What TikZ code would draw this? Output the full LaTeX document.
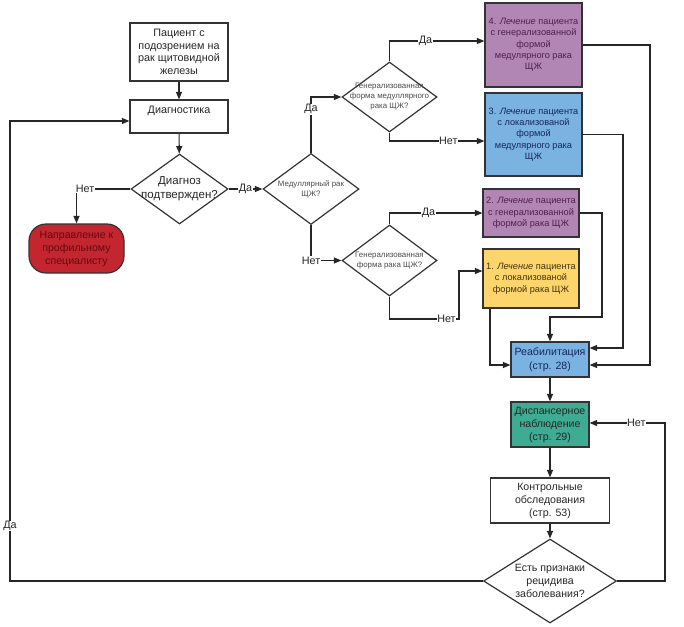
\documentclass[tikz,border=0pt]{standalone}
\usepackage{fontspec}
\setmainfont{Liberation Sans}
\usetikzlibrary{shapes.geometric,arrows.meta}
\definecolor{fillred}{RGB}{196,38,48}
\definecolor{fillpurple}{RGB}{178,134,180}
\definecolor{fillblue}{RGB}{122,178,226}
\definecolor{fillyellow}{RGB}{252,214,108}
\definecolor{fillteal}{RGB}{62,172,146}
\definecolor{textred}{RGB}{100,10,14}
\definecolor{textpurple}{RGB}{80,30,80}
\definecolor{textblue}{RGB}{20,40,90}
\definecolor{textbrown}{RGB}{70,50,10}

\begin{document}
\begin{tikzpicture}[x=1pt,y=-1pt,
  every node/.style={font=\fontsize{10.8}{12.5}\selectfont, text=black!85, align=center},
  box/.style={rectangle, draw=black!80, line width=1.2pt, inner sep=1pt},
  dia/.style={diamond, draw=black!80, line width=1.2pt, inner sep=0pt},
  term/.style={rectangle, rounded corners=17pt, draw=black!80, line width=1.2pt},
  cure/.style={box, font=\fontsize{9.2}{11.3}\selectfont},
  big/.style={font=\fontsize{11.5}{14}\selectfont},
  wide/.style={font=\fontsize{10.6}{13}\selectfont},
  small/.style={font=\fontsize{7.9}{10}\selectfont, text=black!70},
  lbl/.style={fill=white, inner sep=0.5pt},
  arr/.style={draw=black!85, line width=1.1pt, -{Triangle[length=7.5pt,width=6pt]}}]
\useasboundingbox (0,0) rectangle (684,626);

% Boxes
\node[box, minimum width=98pt, minimum height=58pt] (start) at (179,52) {Пациент с\\подозрением на\\рак щитовидной\\железы};
\node[box, minimum width=98pt, minimum height=33pt] (diag) at (179,116.5) {Диагностика\\~};
\node[dia, minimum width=97pt, minimum height=70pt, label={[big]center:{Диагноз\\подтвержден?}}] (dq) at (179.5,189) {};
\node[term, wide, fill=fillred, text=textred, minimum width=95pt, minimum height=49pt] (spec) at (76.5,248.5) {Направление к\\профильному\\специалисту};
\node[dia, minimum width=96pt, minimum height=71pt, label={[small]center:{Медуллярный рак\\ЩЖ?}}] (med) at (311,189) {};
\node[dia, minimum width=95pt, minimum height=70pt, label={[small]center:{Генерализованная\\форма медуллярного\\рака ЩЖ?}}] (gm) at (389.5,97) {};
\node[dia, minimum width=95pt, minimum height=71pt, label={[small]center:{Генерализованная\\форма рака ЩЖ?}}] (gl) at (389.5,260.5) {};

\node[cure, fill=fillpurple, text=textpurple, minimum width=97pt, minimum height=84pt] (t4) at (533.5,45) {4. \textit{Лечение} пациента\\с генерализованной\\формой\\медулярного рака\\ЩЖ};
\node[cure, fill=fillblue, text=textblue, minimum width=97pt, minimum height=83pt] (t3) at (533.5,134.5) {3. \textit{Лечение} пациента\\с локализованой\\формой\\медулярного рака\\ЩЖ};
\node[cure, fill=fillpurple, text=textpurple, minimum width=96pt, minimum height=48pt] (t2) at (531,213) {2. \textit{Лечение} пациента\\с генерализованной\\формой рака ЩЖ};
\node[cure, fill=fillyellow, text=textbrown, minimum width=96pt, minimum height=59pt] (t1) at (531,278.5) {1. \textit{Лечение} пациента\\с локализованой\\формой рака ЩЖ};

\node[box, font=\fontsize{10.6}{14}\selectfont, fill=fillblue, text=textblue, minimum width=78pt, minimum height=35pt] (reab) at (550,359.5) {Реабилитация\\(стр. 28)};
\node[box, wide, fill=fillteal, minimum width=78pt, minimum height=45pt] (disp) at (550,424.5) {Диспансерное\\наблюдение\\(стр. 29)};
\node[box, wide, minimum width=119pt, minimum height=45pt] (ctrl) at (550,500.5) {Контрольные\\обследования\\(стр. 53)};
\node[dia, minimum width=133pt, minimum height=84pt, label={[wide]center:{Есть признаки\\рецидива\\заболевания?}}] (rec) at (550,581) {};

% Bends
\coordinate (k1) at (459,319);
\coordinate (k2) at (602,317);
\coordinate (k3) at (623,348);
\coordinate (k4) at (650,365);
\coordinate (k5) at (665,423);
\coordinate (k6) at (10,121);

%Arrows
\draw[arr] (start) -- (diag);
\draw[arr] (diag) -- (dq);
\draw[arr] (dq.west) -| node[lbl,pos=0.42]{Нет} (spec.north);
\draw[arr] (dq.east) -- node[lbl]{Да} (med.west);
\draw[arr] (med.north) |- node[lbl,pos=0.39]{Да} (gm.west);
\draw[arr] (med.south) |- node[lbl,pos=0.5]{Нет} (gl.west);
\draw[arr] (gm.north) |- node[lbl,pos=0.69]{Да} ([yshift=4pt]t4.west);
\draw[arr] (gm.south) |- node[lbl,pos=0.81]{Нет} ([yshift=-6.5pt]t3.west);
\draw[arr] (gl.north) |- node[lbl,pos=0.71]{Да} (t2.west);
\draw[arr] (gl.south) |- node[lbl,pos=0.91]{Нет} (k1) |- ([yshift=7.5pt]t1.west);
\draw[arr] ([xshift=-41pt]t1.south) |- ([yshift=-5.5pt]reab.west);
\draw[arr] (t2.east) -| (k2) -| (reab.north);
\draw[arr] (t3.east) -| (k3) -- (k3 -| reab.east);
\draw[arr] (t4.east) -| (k4) -- (k4 -| reab.east);
\draw[arr] (reab) -- (disp);
\draw[arr] (disp) -- (ctrl);
\draw[arr] (ctrl) -- (rec);
\draw[arr] (rec.east) -| (k5) -- node[lbl,pos=0.38]{Нет} (k5 -| disp.east);
\draw[arr] (rec.west) -| node[lbl,pos=0.56]{Да} (k6) -- ([yshift=-4.5pt]diag.west);
\end{tikzpicture}
\end{document}
